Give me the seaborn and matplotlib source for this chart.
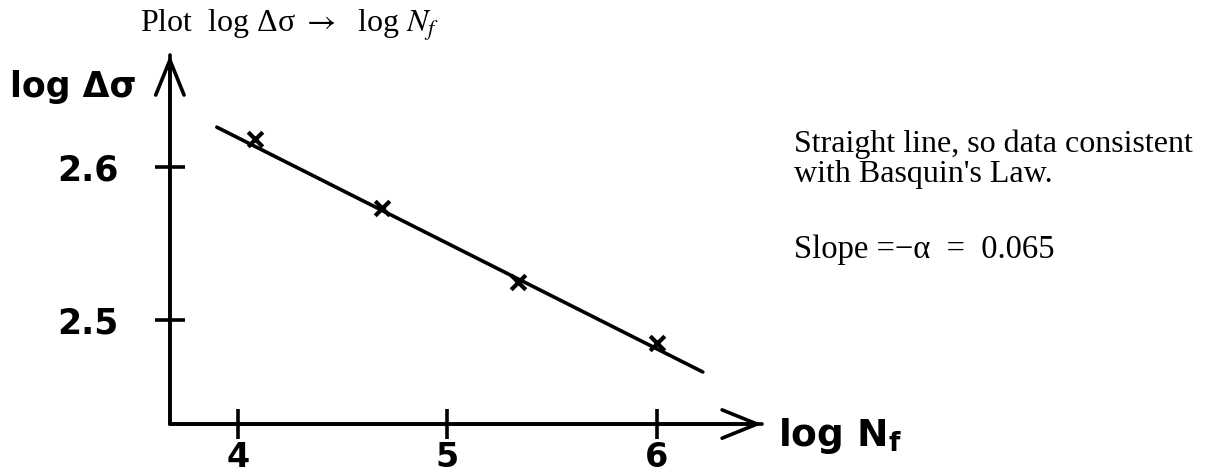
import matplotlib
matplotlib.use("Agg")
import matplotlib.pyplot as plt
from matplotlib.patches import ArrowStyle
import pandas as pd
import seaborn as sns

# Fatigue data on log-log axes
log_nf = [4.08, 4.69, 5.34, 6.0]
log_dsigma = [2.618, 2.573, 2.525, 2.485]

# Hand-drawn straight line through the points
line_x = [3.90, 6.22]
line_y = [2.626, 2.466]

x_ticks = [4, 5, 6]
x_tick_labels = ["4", "5", "6"]
y_ticks = [2.5, 2.6]
y_tick_labels = ["2.5", "2.6"]

title_text = "Plot  log Δσ $\\rightarrow$  log $N_f$"
note_lines = ["Straight line, so data consistent", "with Basquin's Law."]
slope_text = "Slope =\u2212\u03b1  =  0.065"
x_label = "log N$_\\mathregular{f}$"
y_label = "log Δσ"

sns.set_theme(style="white")
plt.rcParams["mathtext.fontset"] = "stix"

W, H = 1206, 473
fig = plt.figure(figsize=(W / 100, H / 100), dpi=100)
ax = fig.add_axes([0, 0, 1, 1])
ax.set_xlim(2.865, 8.622)
ax.set_ylim(2.4, 2.7091)
ax.patch.set_alpha(0)

x0, y0 = 3.676, 2.432      # axis origin
x_end, y_end = 6.502, 2.673  # arrow tips

df_pts = pd.DataFrame({"log_nf": log_nf, "log_dsigma": log_dsigma})
df_line = pd.DataFrame({"log_nf": line_x, "log_dsigma": line_y})

sns.lineplot(data=df_line, x="log_nf", y="log_dsigma", ax=ax,
             color="black", linewidth=2.6, solid_capstyle="round")
sns.scatterplot(data=df_pts, x="log_nf", y="log_dsigma", ax=ax,
                marker="x", s=110, color="black", linewidth=3.0, zorder=5)

# Axes drawn as arrows from the origin
for spine in ["top", "right"]:
    ax.spines[spine].set_visible(False)
ax.spines["left"].set_position(("data", x0))
ax.spines["bottom"].set_position(("data", y0))
ax.spines["left"].set_bounds(y0, y_end)
ax.spines["bottom"].set_bounds(x0, x_end)
for spine in ["left", "bottom"]:
    ax.spines[spine].set_linewidth(2.6)
    ax.spines[spine].set_color("black")
    ax.spines[spine].set_capstyle("round")

arrow = ArrowStyle("->", head_length=2.1, head_width=0.85)
ax.annotate("", xy=(x0, y_end), xytext=(x0, y0),
            arrowprops=dict(arrowstyle=arrow, lw=2.6, color="black",
                            shrinkA=0, shrinkB=0))
ax.annotate("", xy=(x_end, y0), xytext=(x0, y0),
            arrowprops=dict(arrowstyle=arrow, lw=2.6, color="black",
                            shrinkA=0, shrinkB=0))

hand = dict(family="DejaVu Sans", weight="bold", color="black")
ax.set_xticks(x_ticks)
ax.set_xticklabels(x_tick_labels, fontsize=24, **hand)
ax.set_yticks(y_ticks)
ax.set_yticklabels(y_tick_labels, fontsize=25, **hand)
ax.tick_params(axis="both", direction="inout", length=22, width=2.6,
               color="black", bottom=True, left=True)
ax.tick_params(axis="x", pad=1)
ax.tick_params(axis="y", pad=26)
ax.set_xlabel("")
ax.set_ylabel("")


def fx(px):
    return px / W


def fy(py):
    return 1 - py / H


fig.text(fx(10), fy(97), y_label, fontsize=25, ha="left", va="baseline", **hand)
fig.text(fx(778), fy(446), x_label, fontsize=27, ha="left", va="baseline", **hand)

serif = dict(family=["Liberation Serif", "DejaVu Serif"], color="black")
fig.text(fx(140), fy(32), title_text, fontsize=23, ha="left", va="baseline", **serif)
fig.text(fx(794), fy(152), note_lines[0], fontsize=23, ha="left", va="baseline", **serif)
fig.text(fx(794), fy(182), note_lines[1], fontsize=23, ha="left", va="baseline", **serif)
fig.text(fx(794), fy(258), slope_text, fontsize=23.5, ha="left", va="baseline", **serif)

fig.savefig("out.png", dpi=100, facecolor="white")
